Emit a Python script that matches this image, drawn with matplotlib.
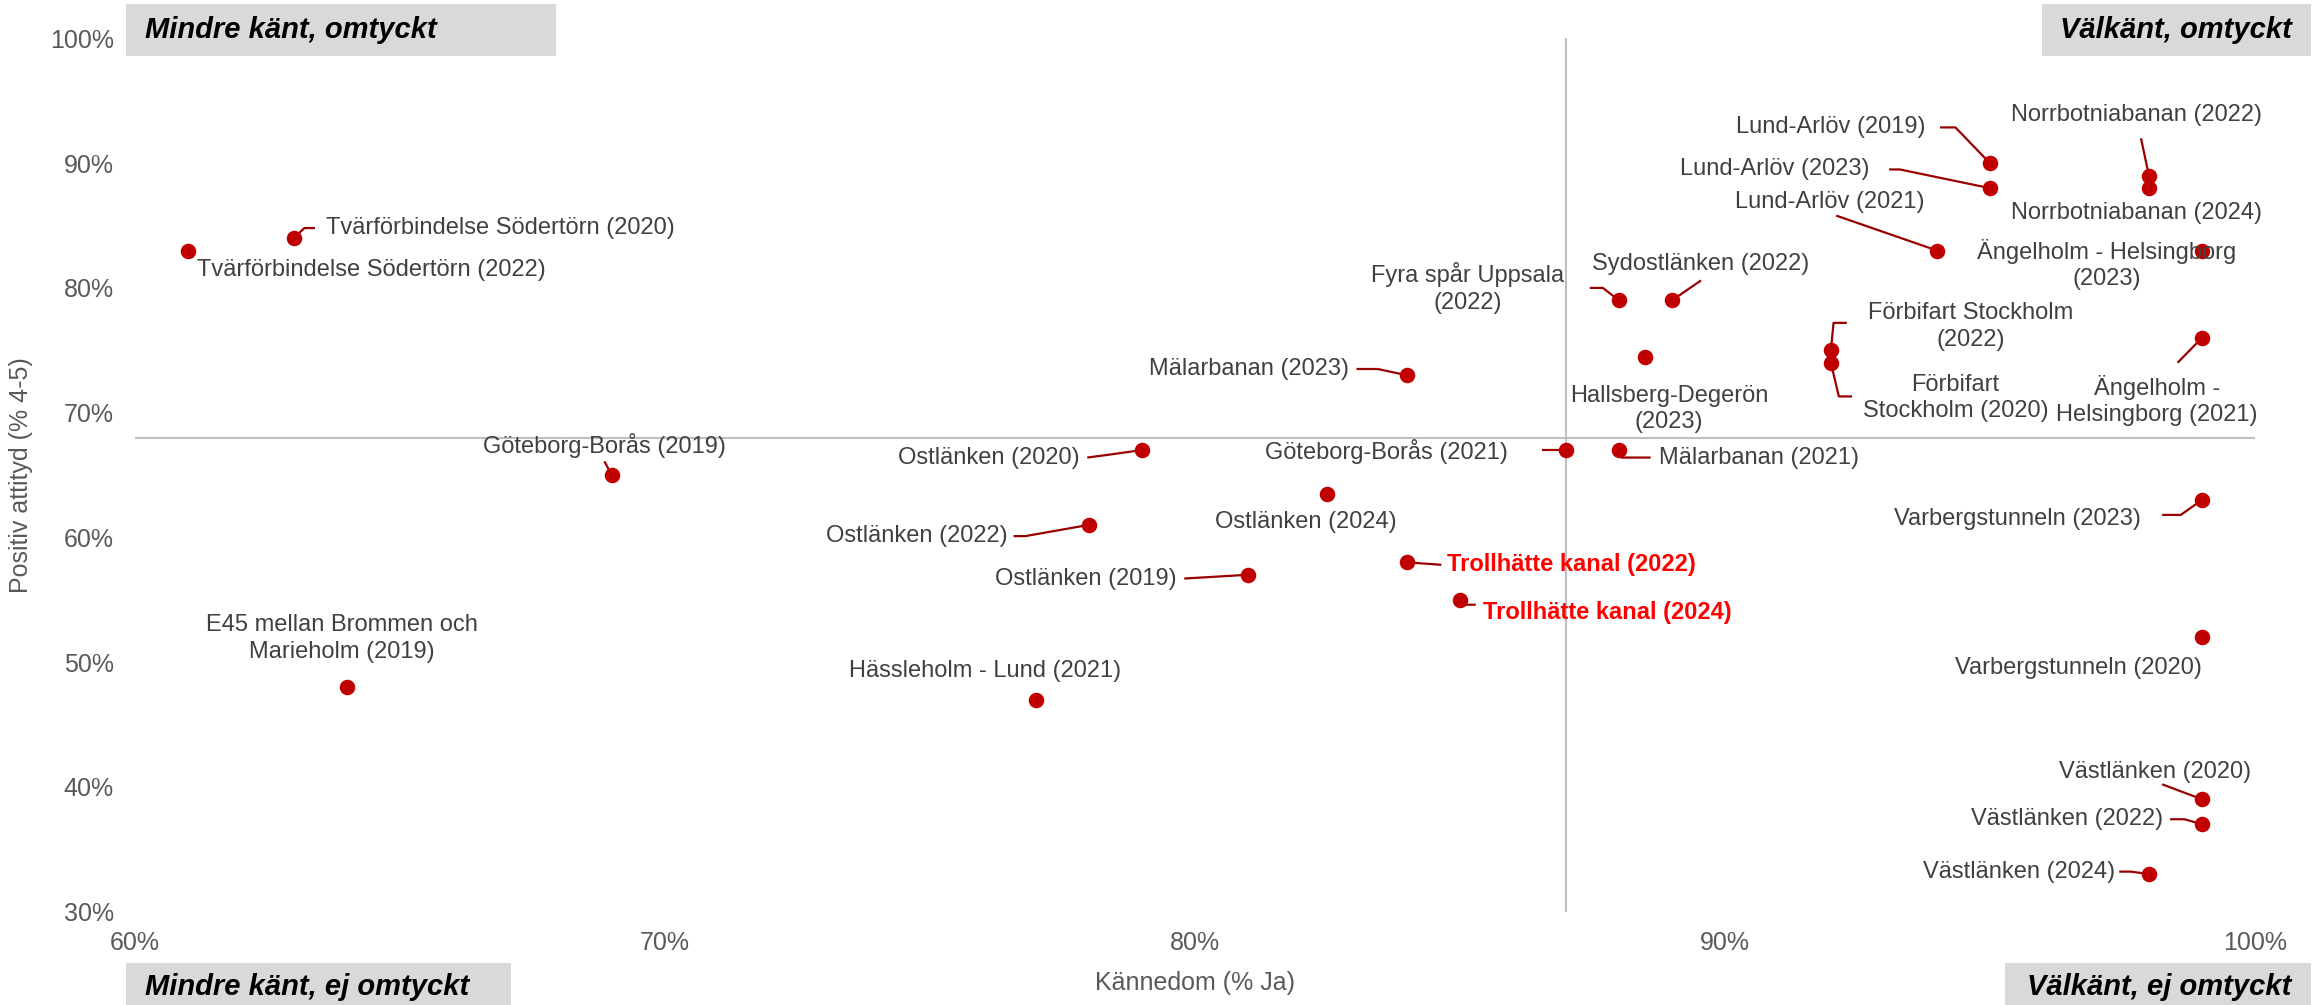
import matplotlib
matplotlib.use("Agg")
import matplotlib.pyplot as plt
from matplotlib.patches import Rectangle
from matplotlib.ticker import FuncFormatter

plt.rcParams['font.family'] = ['Liberation Sans', 'DejaVu Sans']

# ---------------- data ----------------
names = [
    "Tvärförbindelse Södertörn (2022)", "Tvärförbindelse Södertörn (2020)",
    "Göteborg-Borås (2019)", "E45 mellan Brommen och\nMarieholm (2019)",
    "Hässleholm - Lund (2021)", "Ostlänken (2020)", "Ostlänken (2022)",
    "Ostlänken (2019)", "Ostlänken (2024)", "Mälarbanan (2023)",
    "Trollhätte kanal (2022)", "Trollhätte kanal (2024)",
    "Göteborg-Borås (2021)", "Mälarbanan (2021)", "Fyra spår Uppsala\n(2022)",
    "Sydostlänken (2022)", "Hallsberg-Degerön\n(2023)",
    "Förbifart Stockholm\n(2022)", "Förbifart\nStockholm (2020)",
    "Lund-Arlöv (2019)", "Lund-Arlöv (2023)", "Lund-Arlöv (2021)",
    "Norrbotniabanan (2022)", "Norrbotniabanan (2024)",
    "Ängelholm - Helsingborg\n(2023)", "Ängelholm -\nHelsingborg (2021)",
    "Varbergstunneln (2023)", "Varbergstunneln (2020)",
    "Västlänken (2020)", "Västlänken (2022)", "Västlänken (2024)",
]
kannedom = [0.61, 0.63, 0.69, 0.64, 0.77, 0.79, 0.78, 0.81, 0.825, 0.84,
            0.84, 0.85, 0.87, 0.88, 0.88, 0.89, 0.885, 0.92, 0.92,
            0.95, 0.95, 0.94, 0.98, 0.98, 0.99, 0.99, 0.99, 0.99,
            0.99, 0.99, 0.98]
attityd = [0.83, 0.84, 0.65, 0.48, 0.47, 0.67, 0.61, 0.57, 0.635, 0.73,
           0.58, 0.55, 0.67, 0.67, 0.79, 0.79, 0.745, 0.75, 0.74,
           0.90, 0.88, 0.83, 0.89, 0.88, 0.83, 0.76, 0.63, 0.52,
           0.39, 0.37, 0.33]
highlight = ["Trollhätte kanal (2022)", "Trollhätte kanal (2024)"]
mean_kannedom = 0.87
mean_attityd = 0.68
x_ticks = [0.6, 0.7, 0.8, 0.9, 1.0]
y_ticks = [0.3, 0.4, 0.5, 0.6, 0.7, 0.8, 0.9, 1.0]
quadrants = ["Mindre känt, omtyckt", "Välkänt, omtyckt",
             "Mindre känt, ej omtyckt", "Välkänt, ej omtyckt"]

# ---------------- label layout (position, alignment, leader path) ----------------
# (label x, label y, ha, leader waypoints)
layout = [
    (0.6117, 0.8145, "left", []),
    (0.636, 0.848, "left", [(0.632, 0.848), (0.634, 0.848)]),
    (0.6886, 0.674, "center", [(0.6886, 0.661)]),
    (0.639, 0.519, "center", []),
    (0.7604, 0.4925, "center", []),
    (0.7783, 0.664, "right", [(0.7833, 0.666), (0.7797, 0.664)]),
    (0.7646, 0.601, "right", [(0.7680, 0.601), (0.7658, 0.601)]),
    (0.7965, 0.567, "right", [(0.7980, 0.567)]),
    (0.821, 0.6125, "center", []),
    (0.829, 0.735, "right", [(0.8345, 0.735), (0.8305, 0.735)]),
    (0.8476, 0.578, "left", [(0.8465, 0.578)]),
    (0.8543, 0.540, "left", [(0.8505, 0.546), (0.8530, 0.546)]),
    (0.859, 0.669, "right", [(0.8655, 0.670)]),
    (0.8876, 0.664, "left", [(0.8805, 0.664), (0.8860, 0.664)]),
    (0.8515, 0.800, "center", [(0.8770, 0.800), (0.8745, 0.800)]),
    (0.8954, 0.819, "center", [(0.8955, 0.806)]),
    (0.8895, 0.703, "center", []),
    (0.9463, 0.769, "center", [(0.9205, 0.772), (0.9230, 0.772)]),
    (0.9435, 0.712, "center", [(0.9215, 0.713), (0.9240, 0.713)]),
    (0.9379, 0.9287, "right", [(0.9435, 0.9287), (0.9406, 0.9287)]),
    (0.9273, 0.895, "right", [(0.9330, 0.895), (0.9310, 0.895)]),
    (0.9197, 0.869, "center", [(0.9210, 0.858)]),
    (0.9776, 0.939, "center", [(0.9785, 0.920)]),
    (0.9776, 0.860, "center", []),
    (0.972, 0.819, "center", []),
    (0.9815, 0.710, "center", [(0.9854, 0.740)]),
    (0.9784, 0.615, "right", [(0.9860, 0.618), (0.9825, 0.618)]),
    (0.9667, 0.495, "center", []),
    (0.9812, 0.412, "center", [(0.9825, 0.402)]),
    (0.9826, 0.374, "right", [(0.9867, 0.374), (0.9840, 0.374)]),
    (0.9737, 0.332, "right", [(0.9766, 0.332), (0.9744, 0.332)]),
]

W, H = 2323, 1005
fig = plt.figure(figsize=(W / 100, H / 100), dpi=100)
ax = fig.add_axes([0.058, 0.093, 0.9127, 0.8687])
ax.set_xlim(0.6, 1.0)
ax.set_ylim(0.3, 1.0)

for s in ax.spines.values():
    s.set_visible(False)

ax.axvline(mean_kannedom, color="#BFBFBF", lw=1.5, zorder=1)
ax.axhline(mean_attityd, color="#BFBFBF", lw=1.5, zorder=1)

ax.scatter(kannedom, attityd, s=125, color="#C00000", zorder=4, linewidths=0)

lead_col = "#990000"
for name, x, y, (lx, ly, ha, path) in zip(names, kannedom, attityd, layout):
    if path:
        xs = [x] + [p[0] for p in path]
        ys = [y] + [p[1] for p in path]
        ax.plot(xs, ys, color=lead_col, lw=1.6, zorder=3, solid_capstyle="butt")
    is_hl = name in highlight
    ax.text(lx, ly, name, ha=ha, va="center", multialignment="center",
            fontsize=17,
            color="#FF0000" if is_hl else "#404040",
            fontweight="bold" if is_hl else "normal",
            linespacing=1.25, zorder=5)

pct = FuncFormatter(lambda v, p: f"{v * 100:.0f}%")
ax.set_xticks(x_ticks)
ax.set_yticks(y_ticks)
ax.xaxis.set_major_formatter(pct)
ax.yaxis.set_major_formatter(pct)
ax.tick_params(axis="both", length=0, labelsize=18, labelcolor="#595959")
ax.tick_params(axis="x", pad=14)
ax.tick_params(axis="y", pad=15)
ax.set_xlabel("Kännedom (% Ja)", fontsize=18, color="#595959")
ax.set_ylabel("Positiv attityd (% 4-5)", fontsize=18, color="#595959")
ax.xaxis.set_label_coords(0.5, -0.068)
ax.yaxis.set_label_coords(-0.048, 0.5)

# quadrant boxes (figure coords)
boxes = [
    (0.0542, 0.944, 0.2392 - 0.0542, 0.0516, 0.0625, "left"),
    (0.879, 0.944, 0.995 - 0.879, 0.0516, 0.9866, "right"),
    (0.0542, 0.0, 0.22 - 0.0542, 0.0413, 0.0625, "left"),
    (0.863, 0.0, 0.995 - 0.863, 0.0413, 0.9866, "right"),
]
for label, (bx, by, bw, bh, tx, tha) in zip(quadrants, boxes):
    fig.patches.append(Rectangle((bx, by), bw, bh, transform=fig.transFigure,
                                 facecolor="#D9D9D9", edgecolor="none", zorder=0))
    ty = by + bh / 2 if by > 0.5 else 0.018
    fig.text(tx, ty, label, ha=tha, va="center", fontsize=21,
             fontweight="bold", fontstyle="italic", color="#000000")

fig.savefig("out.png", dpi=100)
